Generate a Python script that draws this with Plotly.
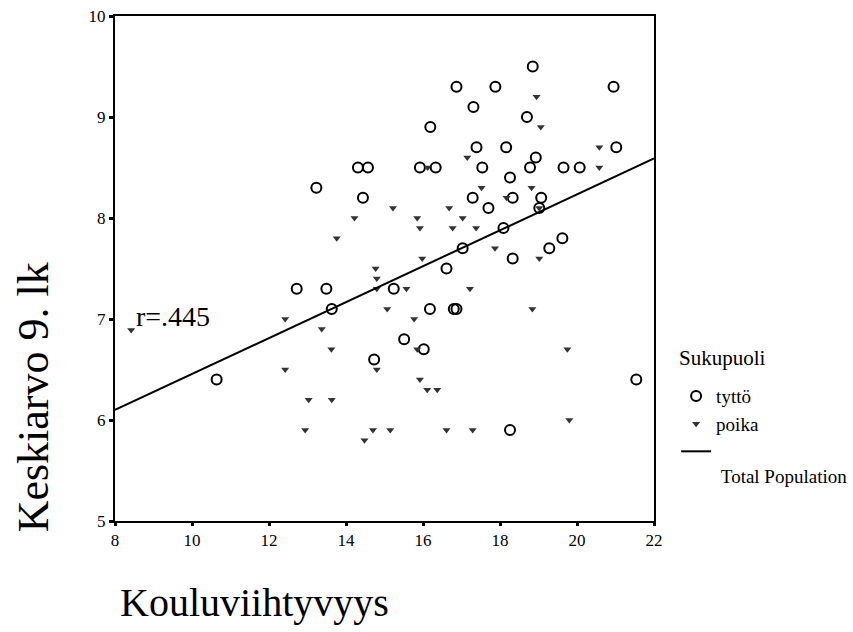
import plotly.graph_objects as go

# tyttö (girls) - open circles
girls_x = [10.64, 12.72, 13.49, 13.23, 14.31, 14.57, 14.44, 13.63, 14.73, 15.24,
           15.51, 16.02, 16.18, 16.80, 16.87, 16.61, 17.03, 18.09, 18.33, 19.28,
           19.62, 17.70, 17.29, 18.33, 19.07, 19.02, 18.26, 15.92, 16.33, 17.54,
           18.78, 19.65, 20.07, 18.93, 17.39, 18.16, 21.02, 16.19, 18.70, 17.31,
           16.87, 17.88, 20.95, 18.85, 18.26, 21.54]
girls_y = [6.40, 7.30, 7.30, 8.30, 8.50, 8.50, 8.20, 7.10, 6.60, 7.30,
           6.80, 6.70, 7.10, 7.10, 7.10, 7.50, 7.70, 7.90, 7.60, 7.70,
           7.80, 8.10, 8.20, 8.20, 8.20, 8.10, 8.40, 8.50, 8.50, 8.50,
           8.50, 8.50, 8.50, 8.60, 8.70, 8.70, 8.70, 8.90, 9.00, 9.10,
           9.30, 9.30, 9.30, 9.50, 5.90, 6.40]

# poika (boys) - small down triangles
boys_x = [8.42, 12.42, 12.42, 12.94, 13.03, 13.37, 13.63, 13.62, 13.76, 14.22,
          14.48, 14.70, 14.77, 14.80, 14.80, 14.80, 15.07, 15.15, 15.22, 15.57,
          15.77, 15.85, 15.92, 15.98, 15.85, 15.92, 16.11, 16.37, 16.12, 16.61,
          16.68, 16.77, 17.03, 17.15, 17.22, 17.29, 17.38, 17.52, 17.87, 18.17,
          18.82, 18.84, 18.95, 19.06, 19.02, 19.02, 19.75, 19.80, 20.58, 20.58]
boys_y = [6.89, 7.00, 6.50, 5.90, 6.20, 6.90, 6.20, 6.70, 7.80, 8.00,
          5.80, 5.90, 7.50, 7.40, 7.30, 6.50, 7.10, 5.90, 8.10, 7.30,
          7.00, 8.00, 7.90, 7.60, 6.70, 6.40, 6.30, 6.30, 8.50, 5.90,
          8.10, 7.90, 8.00, 8.60, 7.30, 5.90, 7.90, 8.30, 7.70, 8.20,
          8.30, 7.10, 9.20, 8.90, 7.60, 8.10, 6.70, 6.00, 8.70, 8.50]

# Total population regression line
line_x = [8, 22]
line_y = [6.10, 8.59]

x_ticks = [8, 10, 12, 14, 16, 18, 20, 22]
y_ticks = [5, 6, 7, 8, 9, 10]

FONT = "Liberation Serif, Times New Roman, serif"

fig = go.Figure()
fig.add_trace(go.Scatter(
    x=girls_x, y=girls_y, mode="markers", name="tyttö", legendrank=1,
    marker=dict(symbol="circle-open", size=10, color="black",
                line=dict(width=2, color="black"))))
fig.add_trace(go.Scatter(
    x=boys_x, y=boys_y, mode="markers", name="poika", legendrank=2,
    marker=dict(symbol="triangle-down", size=7, color="#333333",
                line=dict(width=0))))
fig.add_trace(go.Scatter(
    x=line_x, y=line_y, mode="lines",
    name="\u00a0<br>\u00a0Total Population", legendrank=3,
    line=dict(color="black", width=2), showlegend=True))

fig.add_annotation(x=8.5, y=7.02, xref="x", yref="y", text="r=.445",
                   showarrow=False, xanchor="left", yanchor="middle",
                   font=dict(family=FONT, size=28, color="black"))
fig.add_annotation(x=0.005, y=-0.162, xref="paper", yref="paper",
                   text="Kouluviihtyvyys", showarrow=False,
                   xanchor="left", yanchor="middle",
                   font=dict(family=FONT, size=40, color="black"))
fig.add_annotation(x=-0.152, y=0.245, xref="paper", yref="paper",
                   text="Keskiarvo 9. lk", showarrow=False, textangle=-90,
                   xanchor="center", yanchor="middle",
                   font=dict(family=FONT, size=44, color="black"))
fig.add_annotation(x=1.043, y=0.323, xref="paper", yref="paper",
                   text="Sukupuoli", showarrow=False,
                   xanchor="left", yanchor="middle",
                   font=dict(family=FONT, size=21, color="black"))

fig.update_layout(
    width=853, height=632,
    margin=dict(l=115, r=199, t=16, b=111, autoexpand=False),
    paper_bgcolor="white", plot_bgcolor="white",
    font=dict(family=FONT, color="black", size=17),
    legend=dict(x=1.041, y=0.285, xanchor="left", yanchor="top",
                font=dict(family=FONT, size=19), valign="top",
                bgcolor="rgba(0,0,0,0)", itemwidth=30),
    xaxis=dict(range=[8, 22], tickvals=x_ticks, ticktext=[str(v) for v in x_ticks],
               showgrid=False, zeroline=False, showline=True, linecolor="black",
               linewidth=2, mirror=True, ticks="outside", ticklen=3, tickwidth=3,
               tickcolor="black", tickfont=dict(family=FONT, size=17)),
    yaxis=dict(range=[5, 10], tickvals=y_ticks, ticktext=[str(v) for v in y_ticks],
               showgrid=False, zeroline=False, showline=True, linecolor="black",
               linewidth=2, mirror=True, ticks="outside", ticklen=4, tickwidth=3,
               tickcolor="black", tickfont=dict(family=FONT, size=17)),
)

fig.write_html("out.html")
